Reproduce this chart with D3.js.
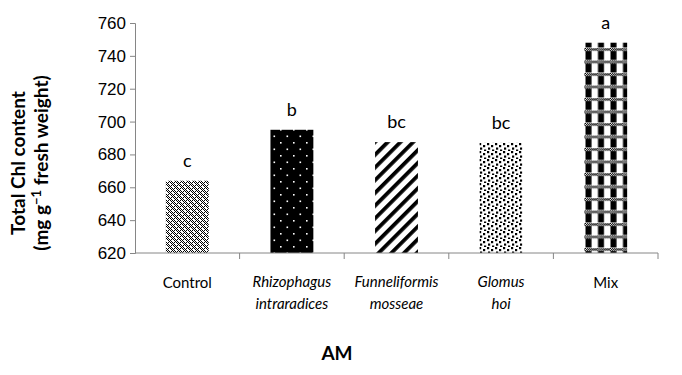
<!DOCTYPE html>
<html>
<head>
<meta charset="utf-8">
<script src="https://cdn.jsdelivr.net/npm/d3@7"></script>
<style>
  body { margin: 0; background: #fff; }
  svg { display: block; font-family: Lato, "Open Sans", sans-serif; }
  .axis path, .axis line { stroke: #868686; }
  .axis text { fill: #000; }
</style>
</head>
<body>
<div id="wrapper"></div>
<script>
// data
const categories = ["Control", "Rhizophagus intraradices", "Funneliformis mosseae", "Glomus hoi", "Mix"];
const labelLines = [["Control"], ["Rhizophagus", "intraradices"], ["Funneliformis", "mosseae"], ["Glomus", "hoi"], ["Mix"]];
const italicLabel = [false, true, true, true, false];
const values = [664, 695, 687.5, 687, 748];
const letters = ["c", "b", "bc", "bc", "a"];
const yTicks = [620, 640, 660, 680, 700, 720, 740, 760];
const patternIds = ["pControl", "pRhizo", "pFunnel", "pGlomus", "pMix"];

const dimensions = {
  width: 682,
  height: 375,
  margin: { top: 23, right: 24, bottom: 122, left: 135 }
};
dimensions.boundedWidth = dimensions.width - dimensions.margin.left - dimensions.margin.right;
dimensions.boundedHeight = dimensions.height - dimensions.margin.top - dimensions.margin.bottom;

const svg = d3.select("#wrapper").append("svg")
  .attr("width", dimensions.width)
  .attr("height", dimensions.height);

// patterns
const defs = svg.append("defs");

// control: fine checker with white dots
const pc = defs.append("pattern").attr("id", "pControl")
  .attr("patternUnits", "userSpaceOnUse").attr("width", 6).attr("height", 6);
pc.append("rect").attr("width", 6).attr("height", 6).attr("fill", "#fff");
for (let i = 0; i < 6; i++) {
  for (let j = 0; j < 6; j++) {
    if ((i + j) % 2 === 0) pc.append("rect").attr("x", i).attr("y", j).attr("width", 1).attr("height", 1).attr("fill", "#000");
  }
}
pc.append("rect").attr("x", 1).attr("y", 1).attr("width", 2).attr("height", 2).attr("fill", "#fff");
pc.append("rect").attr("x", 4).attr("y", 4).attr("width", 2).attr("height", 2).attr("fill", "#fff");
pc.append("rect").attr("x", 2).attr("y", 4).attr("width", 1).attr("height", 1).attr("fill", "#000");

// rhizophagus: black with white dots
const pr = defs.append("pattern").attr("id", "pRhizo")
  .attr("patternUnits", "userSpaceOnUse").attr("width", 13).attr("height", 13);
pr.append("rect").attr("width", 13).attr("height", 13).attr("fill", "#000");
pr.append("rect").attr("x", 2).attr("y", 2).attr("width", 1.6).attr("height", 1.6).attr("fill", "#fff");
pr.append("rect").attr("x", 8.5).attr("y", 8.5).attr("width", 1.6).attr("height", 1.6).attr("fill", "#fff");

// funneliformis: wide diagonal stripes
const pf = defs.append("pattern").attr("id", "pFunnel")
  .attr("patternUnits", "userSpaceOnUse").attr("width", 9).attr("height", 9)
  .attr("patternTransform", "rotate(45)");
pf.append("rect").attr("width", 9).attr("height", 9).attr("fill", "#fff");
pf.append("rect").attr("x", 0).attr("y", 0).attr("width", 3.8).attr("height", 9).attr("fill", "#000");

// glomus: confetti squares
const pg = defs.append("pattern").attr("id", "pGlomus")
  .attr("patternUnits", "userSpaceOnUse").attr("width", 8).attr("height", 8);
pg.append("rect").attr("width", 8).attr("height", 8).attr("fill", "#fff");
[[0, 0], [4, 2], [1, 4.5], [5, 6.5]].forEach(([x, y]) => {
  pg.append("rect").attr("x", x).attr("y", y).attr("width", 2.2).attr("height", 2.2).attr("fill", "#000");
});

// mix: plaid
const pm = defs.append("pattern").attr("id", "pMix")
  .attr("patternUnits", "userSpaceOnUse").attr("width", 12.5).attr("height", 12.5);
pm.append("rect").attr("width", 12.5).attr("height", 12.5).attr("fill", "#fff");
pm.append("rect").attr("x", 0.5).attr("y", 3).attr("width", 6).attr("height", 9).attr("fill", "#000");
for (let i = 0; i < 13; i++) {
  pm.append("rect").attr("x", i).attr("y", (i % 2)).attr("width", 1).attr("height", 1).attr("fill", "#000");
  pm.append("rect").attr("x", i).attr("y", 2 - (i % 2)).attr("width", 1).attr("height", 1).attr("fill", "#000");
}

const bounds = svg.append("g")
  .attr("transform", `translate(${dimensions.margin.left},${dimensions.margin.top})`);

// scales
const xScale = d3.scaleBand()
  .domain(categories)
  .range([0, dimensions.boundedWidth])
  .paddingInner(0.59)
  .paddingOuter(0.295);

const yScale = d3.scaleLinear()
  .domain([620, 760])
  .range([dimensions.boundedHeight, 0]);

// bars
bounds.selectAll(".bar")
  .data(categories)
  .enter().append("rect")
  .attr("class", "bar")
  .attr("x", d => xScale(d))
  .attr("width", xScale.bandwidth())
  .attr("y", (d, i) => yScale(values[i]))
  .attr("height", (d, i) => yScale(620) - yScale(values[i]))
  .attr("fill", (d, i) => `url(#${patternIds[i]})`);

// letters
bounds.selectAll(".letter")
  .data(categories)
  .enter().append("text")
  .attr("class", "letter")
  .attr("x", d => xScale(d) + xScale.bandwidth() / 2)
  .attr("y", (d, i) => yScale(values[i]) - 14)
  .attr("text-anchor", "middle")
  .style("font-size", "18px")
  .text((d, i) => letters[i]);

// y axis
const yAxis = bounds.append("g")
  .attr("class", "axis")
  .call(d3.axisLeft(yScale).tickValues(yTicks).tickSize(5).tickPadding(4).tickFormat(d3.format("d")));
yAxis.selectAll("text").style("font-size", "17px");

// x axis: ticks at band boundaries
const step = xScale.step();
const xAxis = bounds.append("g")
  .attr("class", "axis")
  .attr("transform", `translate(0,${dimensions.boundedHeight})`);
xAxis.append("line")
  .attr("x1", 0).attr("x2", dimensions.boundedWidth)
  .attr("y1", 0).attr("y2", 0);
xAxis.selectAll(".xtick")
  .data(categories)
  .enter().append("line")
  .attr("class", "xtick")
  .attr("x1", d => xScale(d) - xScale.paddingOuter() * step + step)
  .attr("x2", d => xScale(d) - xScale.paddingOuter() * step + step)
  .attr("y1", 0).attr("y2", 6);

const xLabels = xAxis.selectAll(".xlabel")
  .data(categories)
  .enter().append("text")
  .attr("class", "xlabel")
  .attr("x", d => xScale(d) + xScale.bandwidth() / 2)
  .attr("y", (d, i) => labelLines[i].length > 1 ? 34 : 35)
  .attr("text-anchor", "middle")
  .style("font-size", "15px")
  .style("font-style", (d, i) => italicLabel[i] ? "italic" : "normal");
xLabels.each(function (d, i) {
  const t = d3.select(this);
  labelLines[i].forEach((line, k) => {
    t.append("tspan")
      .attr("x", xScale(d) + xScale.bandwidth() / 2)
      .attr("dy", k === 0 ? 0 : 22)
      .text(line);
  });
});

// axis titles
svg.append("text")
  .attr("x", 337)
  .attr("y", 360)
  .attr("text-anchor", "middle")
  .style("font-size", "19px")
  .style("font-weight", "bold")
  .text("AM");

const yTitle = svg.append("text")
  .attr("transform", "translate(25,163) rotate(-90)")
  .attr("text-anchor", "middle")
  .style("font-size", "19px")
  .style("font-weight", "bold");
yTitle.append("tspan").attr("x", 0).attr("dy", 0).text("Total Chl content");
const l2 = yTitle.append("tspan").attr("x", 0).attr("dy", 23);
l2.append("tspan").text("(mg g");
l2.append("tspan").attr("dy", -7).style("font-size", "13px").text("\u22121");
l2.append("tspan").attr("dy", 7).text(" fresh weight)");
</script>
</body>
</html>
